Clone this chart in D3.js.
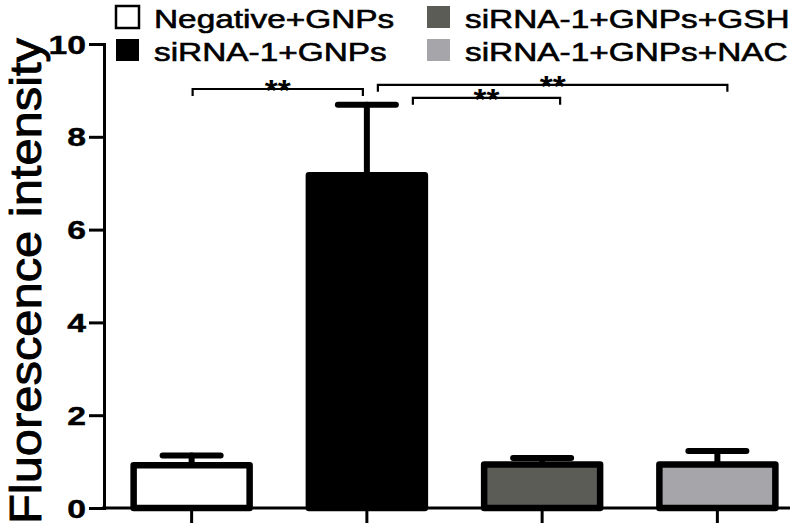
<!DOCTYPE html>
<html lang="en">
<head>
<meta charset="utf-8">
<title>Fluorescence intensity</title>
<script src="https://cdn.jsdelivr.net/npm/d3@7"></script>
<style>
  body { margin: 0; background: #fff; }
  text { font-family: "Liberation Sans", Arial, sans-serif; }
</style>
</head>
<body>
<script>
// data
var groups = ["Negative+GNPs", "siRNA-1+GNPs", "siRNA-1+GNPs+GSH", "siRNA-1+GNPs+NAC"];
var means = [0.92, 7.17, 0.94, 0.94];
var errs = [0.21, 1.52, 0.14, 0.29];
var colors = ["#ffffff", "#000000", "#5b5c56", "#a6a5aa"];
var yTicks = [0, 2, 4, 6, 8, 10];
// significance brackets: [from group, to group, height]
var brackets = [[0, 1, 9.03], [1, 3, 9.12], [1, 2, 8.84]];
var bracketLabels = ["**", "**", "**"];

// layout bits (pixel nudges for bracket ends)
var bracketNudge = [[1, -4], [11, 10], [46, 18]];

var w = 800, h = 529;
var svg = d3.select("body").append("svg")
  .attr("width", w).attr("height", h);

var x = d3.scaleBand().domain(groups).range([104, 805]).padding(0);
var y = d3.scaleLinear().domain([0, 10]).range([508, 44]);
var barW = 116;

// error bars (upper only)
var eb = svg.append("g").attr("stroke", "#000").attr("stroke-width", 6)
  .attr("stroke-linecap", "round");
groups.forEach(function(g, i) {
  var cx = x(g) + x.bandwidth() / 2;
  eb.append("line").attr("x1", cx).attr("x2", cx)
    .attr("y1", y(means[i])).attr("y2", y(means[i] + errs[i]));
  eb.append("line").attr("x1", cx - 29).attr("x2", cx + 29)
    .attr("y1", y(means[i] + errs[i])).attr("y2", y(means[i] + errs[i]));
});

// bars
svg.selectAll("rect.bar")
  .data(groups)
  .enter()
  .append("rect")
  .attr("class", "bar")
  .attr("x", function(d) { return x(d) + (x.bandwidth() - barW) / 2; })
  .attr("y", function(d, i) { return y(means[i]); })
  .attr("width", barW)
  .attr("height", function(d, i) { return y(0) - y(means[i]); })
  .attr("fill", function(d, i) { return colors[i]; })
  .attr("stroke", "#000")
  .attr("stroke-width", 6.5)
  .attr("stroke-linejoin", "round");

// y axis
var yAxis = svg.append("g")
  .attr("transform", "translate(104,0)")
  .call(d3.axisLeft(y).tickValues(yTicks).tickSize(15).tickSizeOuter(15));
yAxis.select(".domain").attr("stroke-width", 3);
yAxis.selectAll(".tick line").attr("stroke-width", 3);
yAxis.selectAll(".tick text")
  .attr("x", null)
  .attr("dy", "0.36em")
  .attr("transform", "translate(-18,0) scale(1.35,1)")
  .attr("font-size", 25)
  .attr("font-weight", "bold")
  .attr("font-family", "Liberation Sans, Arial, sans-serif")
  .attr("fill", "#000")
  .attr("stroke", "#000")
  .attr("stroke-width", 0.4);

// x axis
var xAxis = svg.append("g")
  .attr("transform", "translate(0,508)")
  .call(d3.axisBottom(x).tickSize(15).tickFormat(""));
xAxis.select(".domain").remove();
xAxis.selectAll(".tick line").attr("stroke-width", 3);
svg.append("line")
  .attr("x1", 102).attr("x2", 790)
  .attr("y1", 508).attr("y2", 508)
  .attr("stroke", "#000").attr("stroke-width", 3);

// y axis title
svg.append("text")
  .attr("transform", "translate(41,281) rotate(-90)")
  .attr("text-anchor", "middle")
  .attr("font-size", 45)
  .attr("textLength", 486)
  .attr("lengthAdjust", "spacingAndGlyphs")
  .attr("stroke", "#000")
  .attr("stroke-width", 0.9)
  .text("Fluorescence intensity");

// significance brackets
brackets.forEach(function(b, i) {
  var x1 = x(groups[b[0]]) + x.bandwidth() / 2 + bracketNudge[i][0];
  var x2 = x(groups[b[1]]) + x.bandwidth() / 2 + bracketNudge[i][1];
  var yy = y(b[2]);
  svg.append("path")
    .attr("d", "M" + x1 + "," + (yy + 7) + "V" + yy + "H" + x2 + "V" + (yy + 7))
    .attr("fill", "none").attr("stroke", "#000").attr("stroke-width", 2.2);
  svg.append("text")
    .attr("transform", "translate(" + ((x1 + x2) / 2) + "," + (yy + 11) + ") scale(1.15,1)")
    .attr("text-anchor", "middle")
    .attr("font-size", 29)
    .attr("font-weight", "bold")
    .text(bracketLabels[i]);
});

// legend (two columns)
var legend = svg.append("g");
groups.forEach(function(g, i) {
  var col = Math.floor(i / 2), row = i % 2;
  var lx = col === 0 ? 116 : 427;
  var ly = row === 0 ? 6 : 39;
  legend.append("rect")
    .attr("x", lx).attr("y", ly)
    .attr("width", 23).attr("height", 22)
    .attr("fill", colors[i])
    .attr("stroke", i === 0 ? "#000" : "none")
    .attr("stroke-width", 2.5);
  legend.append("text")
    .attr("transform", "translate(" + (lx + 38) + "," + (ly + 22) + ") scale(1.26,1)")
    .attr("font-size", 26.5)
    .attr("stroke", "#000")
    .attr("stroke-width", 0.6)
    .text(g);
});
</script>
</body>
</html>
